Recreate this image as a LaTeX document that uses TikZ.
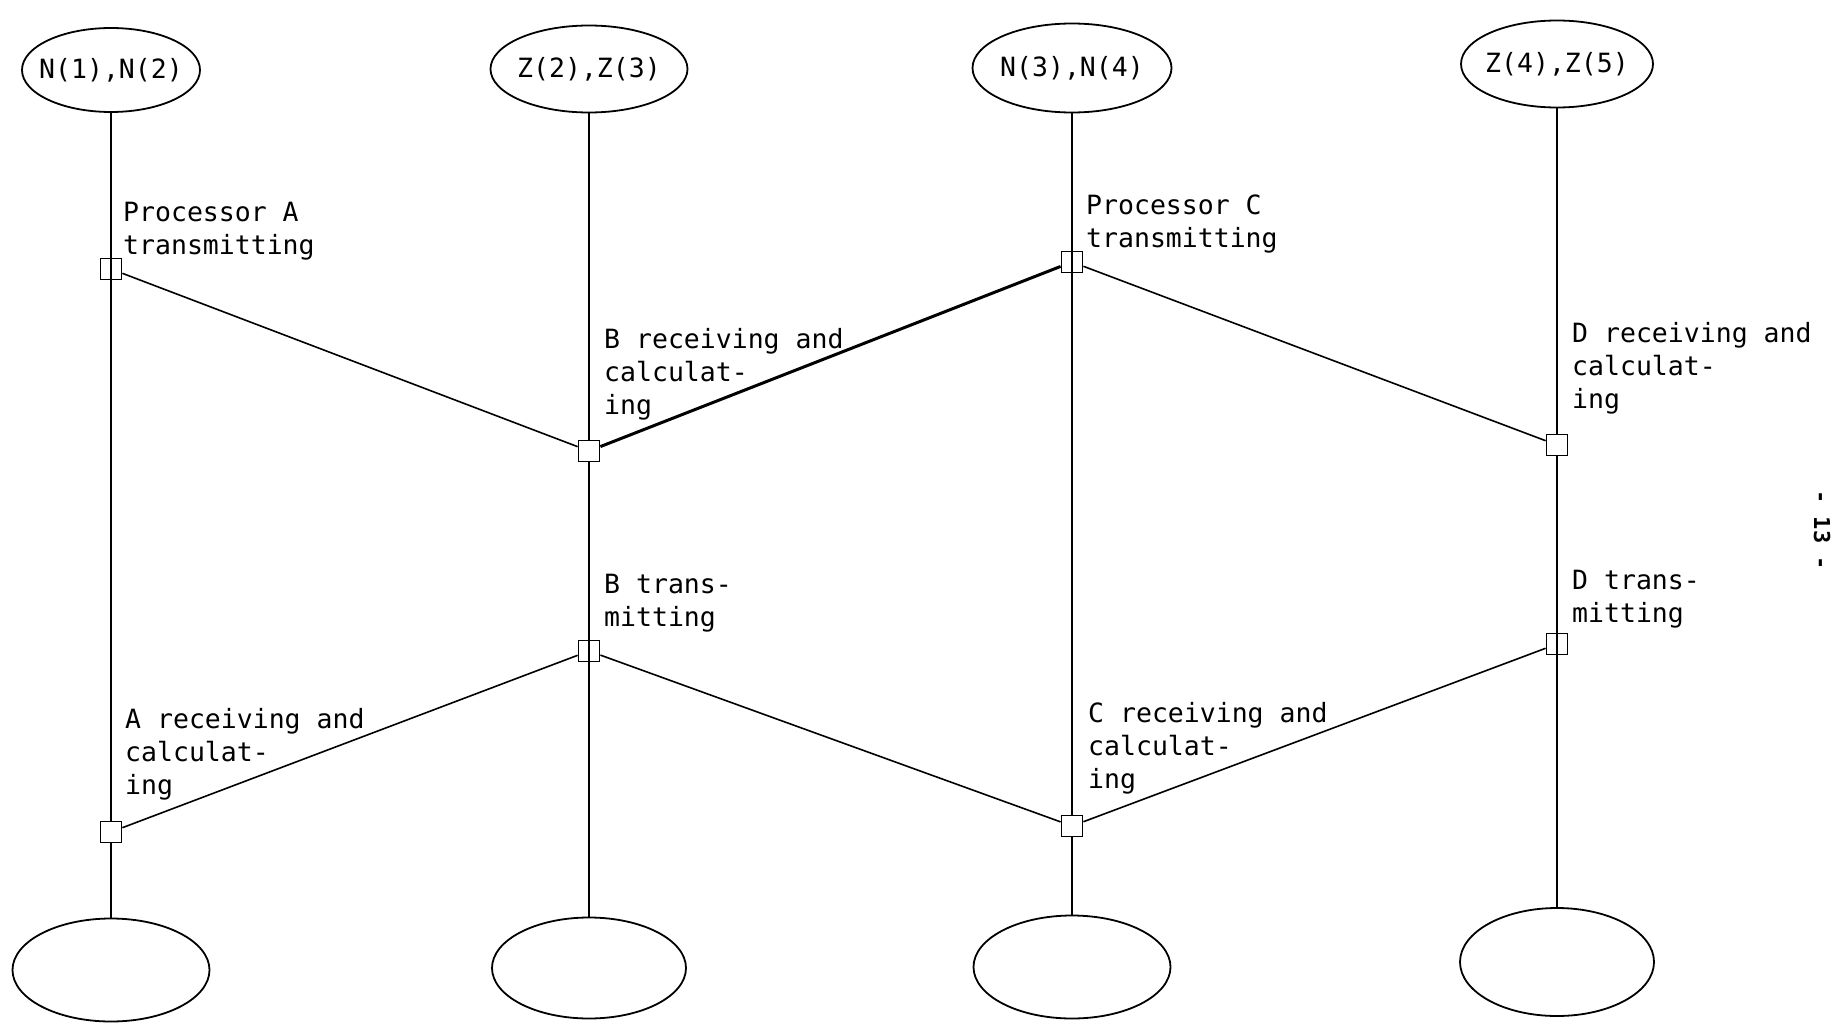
\documentclass[tikz,border=0pt]{standalone}
\usepackage{fontspec}
\usetikzlibrary{shapes.geometric}
\newfontfamily\typew{DejaVu Sans Mono}
\begin{document}
\begin{tikzpicture}[x=1pt,y=-1pt,
  every node/.style={font=\typew\fontsize{26.5}{33}\selectfont},
  proc/.style={ellipse,draw,line width=1.8pt,inner sep=0pt},
  evt/.style={draw,line width=1.8pt,minimum size=21pt,inner sep=0pt},
  lab/.style={anchor=base west,align=left,inner sep=0pt},
  wire/.style={line width=1.6pt},
  heavy/.style={line width=3pt}]
\useasboundingbox (0,0) rectangle (1835,1022);

% processors (top) and their successors (bottom)
\node[proc,minimum width=178pt,minimum height=84pt] (ta) at (111,70) {\makebox[0pt]{N(1),N(2)}};
\node[proc,minimum width=197pt,minimum height=87pt] (tb) at (589,69) {\makebox[0pt]{Z(2),Z(3)}};
\node[proc,minimum width=199pt,minimum height=89pt] (tc) at (1072,68) {\makebox[0pt]{N(3),N(4)}};
\node[proc,minimum width=192pt,minimum height=87pt] (td) at (1557,64) {\makebox[0pt]{Z(4),Z(5)}};
\node[proc,minimum width=197pt,minimum height=103pt] (ba) at (111,970) {};
\node[proc,minimum width=194pt,minimum height=101pt] (bb) at (589,968) {};
\node[proc,minimum width=197pt,minimum height=103pt] (bc) at (1072,967) {};
\node[proc,minimum width=194pt,minimum height=108pt] (bd) at (1557,962) {};

% events on each time line
\node[evt] (a1) at (111,269) {};
\node[evt] (a2) at (111,832) {};
\node[evt] (b1) at (589,451) {};
\node[evt] (b2) at (589,651) {};
\node[evt] (c1) at (1072,262) {};
\node[evt] (c2) at (1072,826) {};
\node[evt] (d1) at (1557,445) {};
\node[evt] (d2) at (1557,644) {};

% time lines
\draw[wire] (ta) -- (a2);
\draw[wire] (a2) -- (ba);
\draw[wire] (tb) -- (b1);
\draw[wire] (b1) -- (bb);
\draw[wire] (tc) -- (c2);
\draw[wire] (c2) -- (bc);
\draw[wire] (td) -- (d1);
\draw[wire] (d1) -- (bd);

% messages
\draw[wire] (a1) -- (b1);
\draw[heavy] (b1) -- (c1);
\draw[wire] (c1) -- (d1);
\draw[wire] (a2) -- (b2);
\draw[wire] (b2) -- (c2);
\draw[wire] (c2) -- (d2);

% labels (anchored at the baseline of their last line)
\node[lab] (la1) at (123,254) {Processor A\\transmitting};
\node[lab] (lc1) at (1086,247) {Processor C\\transmitting};
\node[lab] (lb1) at (604,414) {B receiving and\\calculat-\\ing};
\node[lab] (ld1) at (1572,408) {D receiving and\\calculat-\\ing};
\node[lab] (lb2) at (604,626) {B trans-\\mitting};
\node[lab] (ld2) at (1572,622) {D trans-\\mitting};
\node[lab] (la2) at (125,794) {A receiving and\\calculat-\\ing};
\node[lab] (lc2) at (1088,788) {C receiving and\\calculat-\\ing};

% page number
\node[rotate=-90,inner sep=0pt,font=\typew\bfseries\fontsize{22}{26}\selectfont] (pg) at (1822,530) {- 13 -};
\end{tikzpicture}
\end{document}
